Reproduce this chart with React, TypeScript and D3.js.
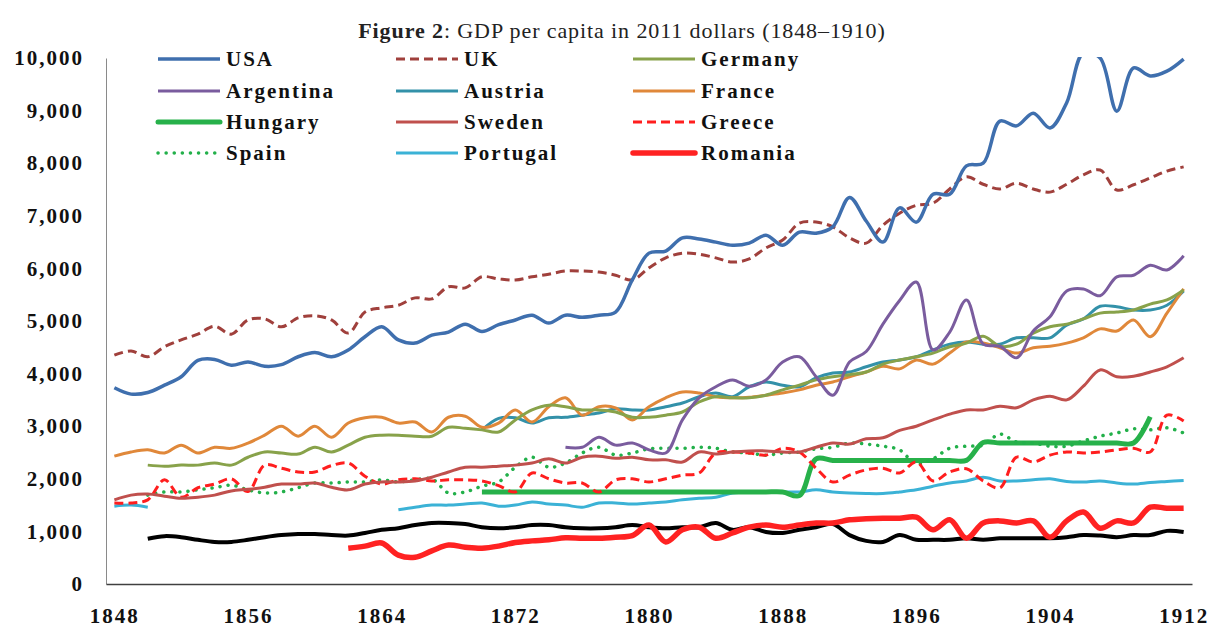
import React, { useEffect, useRef } from "react";
import * as d3 from "d3";

// categories
const years = d3.range(1848, 1913);
const xTickYears = [1848, 1856, 1864, 1872, 1880, 1888, 1896, 1904, 1912];
const yTickValues = [0, 1000, 2000, 3000, 4000, 5000, 6000, 7000, 8000, 9000, 10000];

// GDP per capita, one value per year 1848..1912 (null = no data)
const usa = [
  3730, 3610, 3640, 3780, 3940, 4250, 4270, 4160, 4220, 4140,
  4170, 4320, 4400, 4320, 4450, 4700, 4890, 4640, 4580, 4730,
  4790, 4940, 4800, 4930, 5020, 5110, 4960, 5110, 5070, 5110,
  5170, 5780, 6290, 6330, 6580, 6560, 6500, 6440, 6480, 6630,
  6440, 6690, 6670, 6790, 7350, 6900, 6500, 7150, 6880, 7410,
  7410, 7950, 8000, 8800, 8710, 8950, 8670, 9150, 10100, 10000,
  8990, 9810, 9660, 9750, 9980,
];
const uk = [
  4350, 4430, 4320, 4510, 4640, 4750, 4900, 4750, 5020, 5040,
  4890, 5060, 5100, 5020, 4770, 5170, 5250, 5300, 5440, 5420,
  5650, 5630, 5840, 5800, 5780, 5840, 5890, 5950, 5950, 5930,
  5870, 5780, 6010, 6200, 6290, 6270, 6200, 6120, 6180, 6390,
  6540, 6860, 6880, 6790, 6580, 6480, 6820, 7050, 7200, 7240,
  7510, 7740, 7600, 7510, 7620, 7510, 7450, 7600, 7780, 7870,
  7490, 7590, 7720, 7850, 7930,
];
const germany = [
  null, null, 2260, 2240, 2260, 2260, 2300, 2260, 2410, 2510,
  2490, 2470, 2600, 2510, 2640, 2790, 2830, 2830, 2810, 2810,
  2980, 2960, 2930, 2890, 3120, 3310, 3400, 3370, 3310, 3310,
  3270, 3170, 3170, 3210, 3270, 3460, 3560, 3540, 3540, 3590,
  3690, 3780, 3880, 3940, 3980, 4030, 4180, 4260, 4320, 4390,
  4510, 4580, 4710, 4520, 4560, 4770, 4890, 4940, 5040, 5150,
  5170, 5210, 5320, 5400, 5590,
];
const argentina = [
  null, null, null, null, null, null, null, null, null, null,
  null, null, null, null, null, null, null, null, null, null,
  null, null, null, null, null, null, null, 2600, 2600, 2790,
  2640, 2680, 2550, 2490, 3120, 3540, 3750, 3880, 3760, 3880,
  4220, 4320, 3940, 3590, 4220, 4420, 4940, 5390, 5740, 4450,
  4790, 5400, 4560, 4520, 4300, 4810, 5080, 5570, 5610, 5480,
  5840, 5870, 6060, 5970, 6240,
];
const austria = [
  null, null, null, null, null, null, null, null, null, null,
  null, null, null, null, null, null, null, null, null, null,
  null, null, 2930, 3150, 3160, 3060, 3160, 3170, 3210, 3250,
  3330, 3310, 3310, 3370, 3440, 3560, 3630, 3560, 3750, 3840,
  3780, 3750, 3920, 4010, 4030, 4130, 4220, 4260, 4320, 4450,
  4560, 4600, 4560, 4560, 4680, 4680, 4680, 4920, 5040, 5280,
  5270, 5210, 5210, 5300, 5570,
];
const france = [
  2430, 2510, 2550, 2490, 2640, 2490, 2600, 2580, 2680, 2830,
  3000, 2810, 3000, 2790, 3060, 3160, 3170, 3060, 3080, 2890,
  3170, 3190, 2980, 3060, 3310, 3080, 3370, 3540, 3210, 3370,
  3350, 3120, 3370, 3540, 3650, 3630, 3560, 3540, 3550, 3590,
  3630, 3690, 3780, 3840, 3940, 4030, 4140, 4090, 4260, 4180,
  4390, 4600, 4580, 4490, 4390, 4490, 4520, 4580, 4680, 4850,
  4810, 5020, 4700, 5150, 5610,
];
const hungary = [
  null, null, null, null, null, null, null, null, null, null,
  null, null, null, null, null, null, null, null, null, null,
  null, null, 1750, 1750, 1750, 1750, 1750, 1750, 1750, 1750,
  1750, 1750, 1750, 1750, 1750, 1750, 1750, 1750, 1750, 1750,
  1750, 1680, 2380, 2350, 2350, 2350, 2350, 2350, 2350, 2350,
  2350, 2350, 2690, 2680, 2680, 2680, 2680, 2680, 2680, 2680,
  2680, 2680, 3180, null, null,
];
const sweden = [
  1600, 1690, 1710, 1670, 1630, 1650, 1690, 1770, 1800, 1840,
  1900, 1900, 1920, 1840, 1790, 1900, 1940, 1940, 1960, 2030,
  2130, 2220, 2220, 2240, 2260, 2300, 2380, 2300, 2410, 2430,
  2390, 2410, 2360, 2360, 2320, 2510, 2470, 2510, 2530, 2530,
  2510, 2510, 2600, 2680, 2660, 2760, 2780, 2920, 3000, 3120,
  3230, 3310, 3310, 3380, 3350, 3500, 3570, 3500, 3760, 4070,
  3940, 3950, 4030, 4130, 4300,
];
const greece = [
  1540, 1540, 1600, 1980, 1650, 1830, 1900, 2000, 1760, 2260,
  2200, 2130, 2130, 2250, 2300, 2050, 1900, 1980, 2000, 1960,
  1980, 1980, 1960, 1870, 1750, 2110, 2000, 1920, 1920, 1750,
  1980, 2000, 1940, 2000, 2070, 2110, 2490, 2510, 2490, 2450,
  2580, 2510, 2200, 1940, 2070, 2170, 2200, 2110, 2320, 1960,
  2130, 2190, 1960, 1830, 2410, 2320, 2450, 2510, 2490, 2510,
  2550, 2580, 2510, 3210, 3100,
];
const spain = [
  null, null, 1690, 1750, 1750, 1790, 1830, 1880, 1790, 1730,
  1750, 1830, 1920, 1920, 1940, 1940, 1980, 1940, 1980, 2000,
  1730, 1750, 1860, 1940, 2220, 2410, 2220, 2300, 2490, 2600,
  2450, 2490, 2570, 2580, 2580, 2600, 2580, 2510, 2490, 2450,
  2490, 2510, 2570, 2600, 2680, 2660, 2620, 2550, 2280, 2380,
  2580, 2620, 2640, 2850, 2700, 2680, 2620, 2620, 2720, 2810,
  2870, 2950, 2930, 2970, 2870,
];
const portugal = [
  1480, 1500, 1460, null, null, null, null, null, null, null,
  null, null, null, null, null, null, null, 1410, 1460, 1500,
  1500, 1520, 1540, 1480, 1500, 1560, 1520, 1500, 1460, 1540,
  1540, 1520, 1540, 1560, 1600, 1630, 1650, 1730, 1750, 1750,
  1750, 1750, 1790, 1750, 1730, 1720, 1720, 1750, 1790, 1860,
  1920, 1960, 2030, 1960, 1960, 1980, 2000, 1950, 1940, 1960,
  1920, 1900, 1930, 1950, 1970,
];
const romania = [
  null, null, null, null, null, null, null, null, null, null,
  null, null, null, null, 680, 720, 780, 550, 510, 630,
  740, 700, 680, 720, 790, 820, 840, 880, 870, 870,
  890, 920, 1120, 800, 1030, 1080, 870, 970, 1080, 1120,
  1080, 1120, 1160, 1160, 1220, 1240, 1250, 1250, 1270, 1030,
  1220, 870, 1160, 1200, 1160, 1200, 890, 1200, 1370, 1060,
  1200, 1160, 1460, 1440, 1440,
];
const unlabeled = [
  null, null, 860, 910, 890, 840, 800, 800, 840, 890,
  930, 950, 950, 930, 920, 970, 1030, 1060, 1120, 1160,
  1160, 1140, 1080, 1060, 1080, 1120, 1120, 1080, 1060, 1060,
  1080, 1120, 1080, 1060, 1080, 1080, 1160, 1030, 1080, 990,
  970, 1030, 1080, 1140, 930, 820, 800, 930, 840, 840,
  840, 870, 840, 870, 870, 870, 870, 890, 930, 920,
  890, 930, 930, 1010, 990,
];

type Series = {
  name: string;
  values: (number | null)[];
  color: string;
  width: number;
  dash?: string;
  cap?: string;
  legend?: [number, number];
};

const series: Series[] = [
  { name: "", values: unlabeled, color: "#000000", width: 4 },
  { name: "Romania", values: romania, color: "#ff2222", width: 5.5, legend: [2, 3] },
  { name: "Portugal", values: portugal, color: "#3bb2d6", width: 3, legend: [1, 3] },
  { name: "Hungary", values: hungary, color: "#27b14a", width: 5, legend: [0, 2] },
  { name: "Spain", values: spain, color: "#22b04a", width: 3.5, dash: "0.1 8", cap: "round", legend: [0, 3] },
  { name: "Greece", values: greece, color: "#ff1e1e", width: 3, dash: "9 5", legend: [2, 2] },
  { name: "Sweden", values: sweden, color: "#c0504d", width: 3, legend: [1, 2] },
  { name: "Austria", values: austria, color: "#3391a9", width: 3, legend: [1, 1] },
  { name: "France", values: france, color: "#e0883a", width: 3, legend: [2, 1] },
  { name: "Germany", values: germany, color: "#88a24a", width: 3, legend: [2, 0] },
  { name: "Argentina", values: argentina, color: "#7a5c9e", width: 3, legend: [0, 1] },
  { name: "UK", values: uk, color: "#a0403c", width: 3, dash: "9 5", legend: [1, 0] },
  { name: "USA", values: usa, color: "#3f6fae", width: 3.5, legend: [0, 0] },
];

const FONT = "'Liberation Serif', 'Times New Roman', serif";

const App = () => {
  const svgRef = useRef<SVGSVGElement>(null);

  useEffect(() => {
    const width = 1214;
    const height = 628;
    const left = 106;
    const right = 1192;
    const top = 58;
    const bottom = 584;

    const svg = d3.select(svgRef.current).attr("width", width).attr("height", height);
    svg.selectAll("*").remove();

    const x = d3.scaleLinear().domain([1847.5, 1912.5]).range([left, right]);
    const y = d3.scaleLinear().domain([0, 10000]).range([bottom, top]);

    // Title
    const title = svg
      .append("text")
      .attr("x", 622)
      .attr("y", 38)
      .attr("text-anchor", "middle")
      .style("font-family", FONT)
      .style("font-size", "22px")
      .style("letter-spacing", "0.9px")
      .attr("fill", "#222");
    title.append("tspan").attr("font-weight", "bold").text("Figure 2");
    title.append("tspan").text(": GDP per capita in 2011 dollars (1848–1910)");

    svg
      .append("defs")
      .append("clipPath")
      .attr("id", "plot-clip")
      .append("rect")
      .attr("x", left)
      .attr("y", top - 1)
      .attr("width", right - left)
      .attr("height", bottom - top + 1);

    // y-axis
    svg
      .append("g")
      .attr("transform", `translate(${left},0)`)
      .call(
        d3
          .axisLeft(y)
          .tickValues(yTickValues)
          .tickSize(0)
          .tickPadding(22)
          .tickFormat(d3.format(","))
      )
      .call((g) => g.select(".domain").attr("stroke", "#8a8a8a"))
      .call((g) =>
        g
          .selectAll("text")
          .attr("fill", "#111")
          .style("font-family", FONT)
          .style("font-size", "21px")
          .style("font-weight", "bold")
          .style("letter-spacing", "2px")
      );

    // x-axis
    svg
      .append("g")
      .attr("transform", `translate(0,${bottom})`)
      .call(
        d3
          .axisBottom(x)
          .tickValues(xTickYears)
          .tickSize(0)
          .tickFormat(d3.format("d"))
      )
      .call((g) => g.select(".domain").attr("stroke", "#404040").attr("stroke-width", 1.5))
      .call((g) =>
        g
          .selectAll("text")
          .attr("y", 39)
          .attr("dy", 0)
          .attr("fill", "#111")
          .style("font-family", FONT)
          .style("font-size", "21px")
          .style("font-weight", "bold")
          .style("letter-spacing", "2px")
      );

    // lines
    const line = d3
      .line<number | null>()
      .defined((d) => d != null)
      .x((_, i) => x(years[i]))
      .y((d) => y(d as number))
      .curve(d3.curveCatmullRom.alpha(0.5));

    const plot = svg.append("g").attr("clip-path", "url(#plot-clip)");
    series.forEach((s) => {
      plot
        .append("path")
        .datum(s.values)
        .attr("fill", "none")
        .attr("stroke", s.color)
        .attr("stroke-width", s.width)
        .attr("stroke-dasharray", s.dash ?? null)
        .attr("stroke-linecap", s.cap ?? "butt")
        .attr("stroke-linejoin", "round")
        .attr("d", line);
    });

    // legend
    const colX = [158, 396, 633];
    const rowY = [59, 91, 122, 153];
    const legend = svg.append("g");
    series
      .filter((s) => s.legend)
      .forEach((s) => {
        const [c, r] = s.legend as [number, number];
        legend
          .append("line")
          .attr("x1", colX[c])
          .attr("x2", colX[c] + 62)
          .attr("y1", rowY[r])
          .attr("y2", rowY[r])
          .attr("stroke", s.color)
          .attr("stroke-width", s.width)
          .attr("stroke-dasharray", s.dash ?? null)
          .attr("stroke-linecap", s.cap ?? (s.width > 4 ? "round" : "butt"));
        legend
          .append("text")
          .attr("x", colX[c] + 68)
          .attr("y", rowY[r] + 7)
          .attr("fill", "#111")
          .style("font-family", FONT)
          .style("font-size", "21px")
          .style("font-weight", "bold")
          .style("letter-spacing", "2px")
          .text(s.name);
      });
  }, []);

  return (
    <div style={{ position: "absolute", left: 0, top: 0 }}>
      <svg ref={svgRef}></svg>
    </div>
  );
};

export default App;
